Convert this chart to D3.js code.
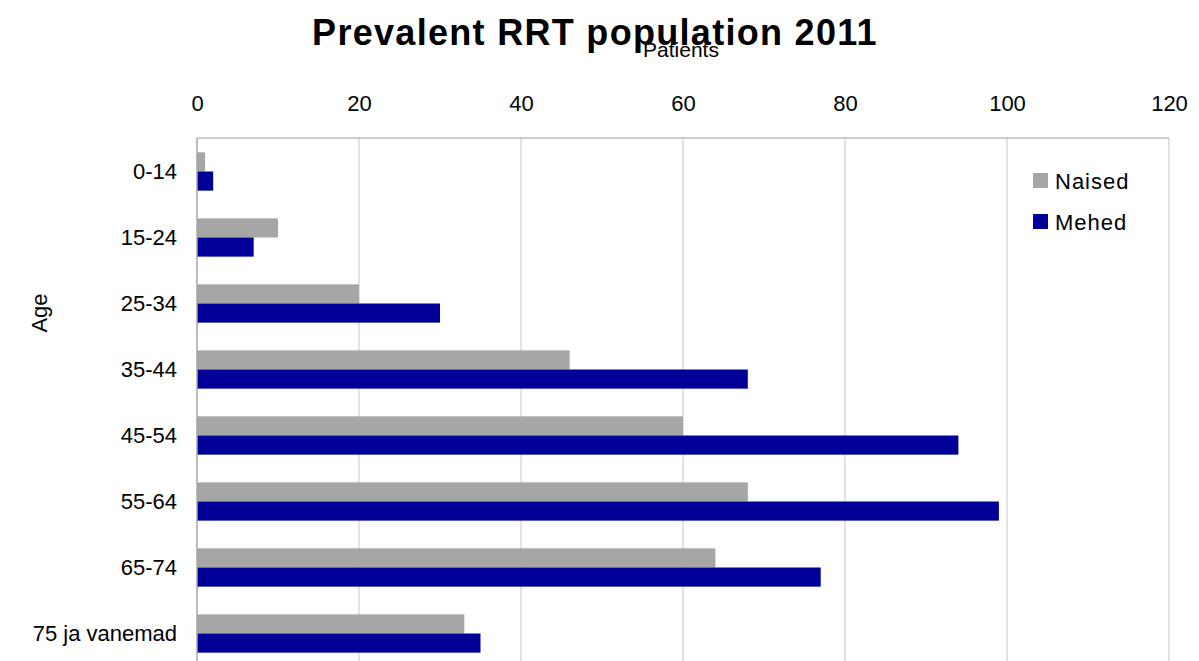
<!DOCTYPE html>
<html>
<head>
<meta charset="utf-8">
<script src="https://cdn.jsdelivr.net/npm/d3@7"></script>
<style>
  html, body { margin: 0; padding: 0; background: #fff; }
  svg { display: block; font-family: "Liberation Sans", Arial, sans-serif; }
</style>
</head>
<body>
<svg id="chart" width="1199" height="661"></svg>
<script>
// Prevalent RRT population by age group, 2011
const ageGroups = ["0-14", "15-24", "25-34", "35-44", "45-54", "55-64", "65-74", "75 ja vanemad"];
const seriesNames = ["Naised", "Mehed"];
const naised = [1, 10, 20, 46, 60, 68, 64, 33];
const mehed = [2, 7, 30, 68, 94, 99, 77, 35];
const xTicks = [0, 20, 40, 60, 80, 100, 120];
const seriesColors = ["#a6a6a6", "#000099"];

const svg = d3.select("#chart");
const plotTop = 138, plotBottom = 666;

const x = d3.scaleLinear().domain([0, 120]).range([197, 1169]);
const y = d3.scaleBand().domain(ageGroups).range([plotTop, plotBottom]).paddingInner(0.42).paddingOuter(0.21);
const ySub = d3.scaleBand().domain(seriesNames).range([0, y.bandwidth()]);

// Vertical gridlines
svg.append("g")
  .selectAll("line")
  .data(xTicks.filter(d => d > 0))
  .join("line")
  .attr("x1", d => x(d)).attr("x2", d => x(d))
  .attr("y1", plotTop).attr("y2", plotBottom)
  .attr("stroke", "#d9d9d9").attr("stroke-width", 1.5);

// Top axis line
svg.append("line")
  .attr("x1", x(0)).attr("x2", x(120))
  .attr("y1", plotTop).attr("y2", plotTop)
  .attr("stroke", "#bdbdbd").attr("stroke-width", 1.5);

// Bars
const rows = ageGroups.map((g, i) => ({ group: g, values: [naised[i], mehed[i]] }));
svg.append("g")
  .selectAll("g")
  .data(rows)
  .join("g")
  .attr("transform", d => `translate(0,${y(d.group) + 0.5})`)
  .selectAll("rect")
  .data(d => d.values.map((v, j) => ({ name: seriesNames[j], value: v, color: seriesColors[j] })))
  .join("rect")
  .attr("x", x(0))
  .attr("y", d => ySub(d.name))
  .attr("width", d => x(d.value) - x(0))
  .attr("height", ySub.bandwidth())
  .attr("fill", d => d.color);

// Left axis line
svg.append("line")
  .attr("x1", x(0)).attr("x2", x(0))
  .attr("y1", plotTop).attr("y2", plotBottom)
  .attr("stroke", "#a6a6a6").attr("stroke-width", 1.5);

// Top tick labels
const xAxis = d3.axisTop(x).tickValues(xTicks).tickSize(0).tickPadding(0);
const gx = svg.append("g").attr("transform", "translate(0,111)").call(xAxis);
gx.select(".domain").remove();
gx.selectAll("text").attr("font-size", 22).attr("fill", "#000")
  .attr("font-family", "Liberation Sans, Arial, sans-serif");

// Category labels
const yAxis = d3.axisLeft(y).tickSize(0).tickPadding(20);
const gy = svg.append("g").attr("transform", `translate(${x(0)},1)`).call(yAxis);
gy.select(".domain").remove();
gy.selectAll("text").attr("font-size", 22).attr("fill", "#000")
  .attr("font-family", "Liberation Sans, Arial, sans-serif");

// Title
svg.append("text")
  .attr("x", 595).attr("y", 45)
  .attr("text-anchor", "middle")
  .attr("font-size", 36).attr("font-weight", "bold")
  .attr("letter-spacing", 1.3)
  .text("Prevalent RRT population 2011");

// Axis titles
svg.append("text")
  .attr("x", 681).attr("y", 57)
  .attr("text-anchor", "middle")
  .attr("font-size", 21)
  .text("Patients");

svg.append("text")
  .attr("transform", "translate(47,313) rotate(-90)")
  .attr("text-anchor", "middle")
  .attr("font-size", 22)
  .text("Age");

// Legend
const legend = svg.append("g").attr("transform", "translate(1033,173)");
const li = legend.selectAll("g")
  .data(seriesNames)
  .join("g")
  .attr("transform", (d, i) => `translate(0,${i * 41})`);
li.append("rect")
  .attr("x", 0).attr("y", 0)
  .attr("width", 15).attr("height", 15)
  .attr("fill", (d, i) => seriesColors[i]);
li.append("text")
  .attr("x", 22).attr("y", 16)
  .attr("font-size", 22)
  .attr("letter-spacing", 1)
  .text(d => d);
</script>
</body>
</html>
